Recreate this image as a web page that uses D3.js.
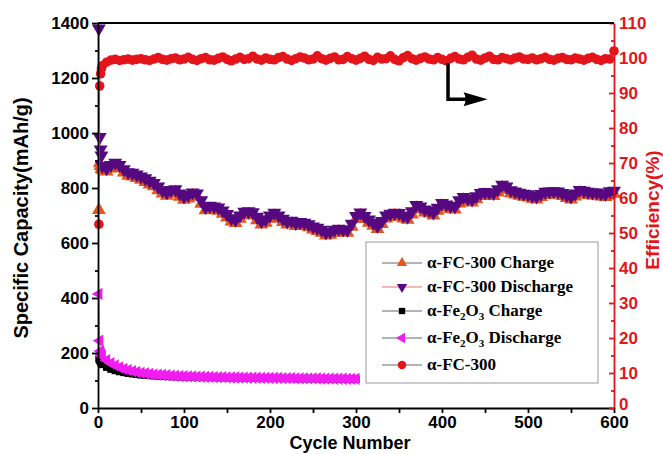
<!DOCTYPE html>
<html>

<head>
	<meta charset="utf-8">
	<title>Cycling performance</title>
	<style>
		body {
			margin: 0;
			background: #ffffff;
		}
		.tick text {
			font-family: "Liberation Sans", Arial, sans-serif;
			font-weight: bold;
			font-size: 17px;
		}
		.legend text {
			font-family: "Liberation Serif", "Times New Roman", serif;
			font-weight: bold;
			font-size: 17px;
		}
	</style>
</head>

<body>
	<script src="https://d3js.org/d3.v7.min.js"></script>
	<script type="text/javascript">
		// cycle index: first four cycles, then every 5th cycle
		var fcCycles = [1, 2, 3, 4].concat(d3.range(5, 601, 5));
		var feCycles = [1, 2, 3, 4].concat(d3.range(5, 301, 5));

		// alpha-FC-300 capacity (mAh/g)
		var fcCharge = [720, 890, 880, 870,
			866, 860, 871, 879, 872, 856, 845, 842, 836, 830,
			822, 813, 806, 792, 780, 772, 780, 783, 768, 757,
			762, 772, 768, 743, 719, 723, 721, 717, 706, 693,
			678, 673, 688, 702, 703, 700, 683, 667, 674, 688,
			698, 689, 676, 667, 669, 662, 664, 663, 657, 649,
			644, 637, 627, 630, 637, 641, 638, 637, 659, 687,
			700, 687, 674, 663, 651, 669, 689, 695, 699, 698,
			689, 685, 704, 727, 722, 711, 707, 700, 717, 734,
			729, 724, 722, 744, 756, 751, 747, 759, 771, 774,
			773, 771, 784, 801, 794, 781, 776, 772, 768, 766,
			761, 758, 767, 775, 776, 777, 776, 771, 764, 758,
			769, 782, 779, 775, 773, 773, 769, 767, 777, 779];
		var fcDischarge = [1380, 985, 940, 918,
			880, 872, 884, 892, 884, 868, 857, 855, 849, 842,
			835, 826, 818, 805, 792, 784, 793, 795, 780, 769,
			775, 784, 780, 755, 731, 735, 733, 729, 718, 705,
			690, 685, 700, 714, 715, 712, 695, 679, 686, 700,
			710, 700, 688, 678, 681, 673, 676, 674, 668, 660,
			655, 648, 638, 641, 648, 652, 649, 648, 670, 698,
			711, 698, 685, 674, 662, 680, 700, 706, 710, 709,
			700, 696, 715, 738, 733, 722, 718, 711, 728, 745,
			740, 735, 733, 755, 767, 762, 758, 770, 782, 785,
			784, 782, 795, 812, 805, 792, 787, 783, 779, 777,
			772, 769, 778, 786, 787, 788, 787, 782, 775, 769,
			780, 793, 790, 786, 784, 784, 780, 778, 788, 790];

		// alpha-Fe2O3 capacity (mAh/g)
		var feCharge = [178, 172, 166, 162,
			158, 148, 141, 136, 132, 129, 126, 124, 122, 120,
			119, 118, 117, 116, 115, 114.5, 114, 113.5, 113, 112.5,
			112, 112, 111.5, 111, 111, 110.5, 110.5, 110, 110, 109.5,
			109.5, 109, 109, 108.5, 108.5, 108.5, 108, 108, 108, 107.5,
			107.5, 107.5, 107, 107, 107, 106.5, 106.5, 106.5, 106, 106,
			106, 105.5, 105.5, 105.5, 105, 105, 105, 104.5, 104.5, 104.5];
		var feDischarge = [415, 245, 207, 196,
			189, 174, 163, 155, 148, 142, 138, 134, 131, 128,
			126, 124, 122, 121, 120, 119, 118, 117, 116, 115.5,
			115, 114.5, 114, 113.5, 113, 113, 112.5, 112, 112, 111.5,
			111, 111, 110.5, 110.5, 110, 110, 110, 109.5, 109.5, 109,
			109, 109, 108.5, 108.5, 108.5, 108, 108, 108, 107.5, 107.5,
			107.5, 107, 107, 107, 106.5, 106.5, 106.5, 106, 106, 106];

		// alpha-FC-300 coulombic efficiency (%)
		var fcEfficiency = [52.5, 92, 95.5, 97,
			97.8, 98.8, 99.4, 99.6, 99.3, 99.5, 99.7, 99.4, 99.6, 99.8,
			99.5, 99.3, 99.7, 100.1, 99.6, 99.4, 99.8, 100.0, 99.5, 99.7,
			100.2, 99.6, 99.3, 99.8, 100.1, 99.5, 99.4, 99.9, 100.3, 99.6,
			99.2, 99.7, 100.2, 99.6, 99.8, 100.5, 99.7, 99.4, 100.0, 99.6,
			99.5, 100.1, 100.4, 99.7, 99.3, 99.8, 100.3, 100.0, 99.5, 99.7,
			100.6, 99.8, 99.4, 99.9, 100.3, 99.5, 99.6, 100.4, 99.8, 99.4,
			99.9, 100.5, 99.6, 99.3, 100.2, 99.7, 99.8, 100.6, 99.6, 99.2,
			100.1, 100.7, 99.8, 99.4, 99.9, 100.3, 99.7, 99.5, 100.1, 99.6,
			99.2, 99.9, 100.4, 99.7, 99.5, 100.2, 100.8, 99.7, 99.4, 100.0,
			100.5, 99.6, 99.5, 100.1, 99.8, 99.5, 100.0, 100.3, 99.7, 99.6,
			100.0, 99.5, 99.8, 100.2, 99.6, 99.4, 99.9, 100.1, 99.6, 99.5,
			100.0, 99.7, 99.4, 99.9, 100.2, 99.6, 99.3, 99.8, 99.7, 102.0];

		var xTicks = [0, 100, 200, 300, 400, 500, 600];
		var yLeftTicks = [0, 200, 400, 600, 800, 1000, 1200, 1400];
		var yRightTicks = [0, 10, 20, 30, 40, 50, 60, 70, 80, 90, 100, 110];

		var legendNames = ["α-FC-300 Charge", "α-FC-300 Discharge", "α-Fe2O3 Charge", "α-Fe2O3 Discharge", "α-FC-300"];

		var red = "#e3151b";
		var colFcCharge = "#e4561f";
		var colFcDischarge = "#55087f";
		var colFeCharge = "#000000";
		var colFeDischarge = "#f01cf0";

		var svg = d3.select("body").append("svg")
			.attr("width", 663)
			.attr("height", 454);

		var x = d3.scaleLinear().domain([0, 600]).range([98, 614]);
		var yL = d3.scaleLinear().domain([0, 1400]).range([408, 23]);
		var yR = d3.scaleLinear().domain([0, 110]).range([408, 23]);

		// series, in plotting order (size = plot marker, lsize = legend marker)
		var series = [
			{cyc: fcCycles, val: fcCharge, y: yL, color: colFcCharge, line: "#9a9a9a", shape: d3.symbolTriangle, rot: 0, size: 84, lsize: 46},
			{cyc: fcCycles, val: fcDischarge, y: yL, color: colFcDischarge, line: "#f2a0a0", shape: d3.symbolTriangle, rot: 180, size: 84, lsize: 46},
			{cyc: feCycles, val: feCharge, y: yL, color: colFeCharge, line: "#9a9a9a", shape: d3.symbolSquare, rot: 0, size: 52, lsize: 40},
			{cyc: feCycles, val: feDischarge, y: yL, color: colFeDischarge, line: "#9a9a9a", shape: d3.symbolTriangle, rot: -90, size: 66, lsize: 46},
			{cyc: fcCycles, val: fcEfficiency, y: yR, color: red, line: "#9a9a9a", shape: d3.symbolCircle, rot: 0, size: 72, lsize: 56}
		];

		series.forEach(function(s) {
			var pts = s.cyc.map(function(c, i) { return [c, s.val[i]]; });
			svg.append("path")
				.attr("d", d3.line().x(function(d) { return x(d[0]); }).y(function(d) { return s.y(d[1]); })(pts))
				.attr("fill", "none")
				.attr("stroke", s.line)
				.attr("stroke-width", 1);
			svg.append("g").selectAll("path").data(pts).enter().append("path")
				.attr("d", d3.symbol().type(s.shape).size(s.size))
				.attr("transform", function(d) {
					return "translate(" + x(d[0]) + "," + s.y(d[1]) + ") rotate(" + s.rot + ")";
				})
				.attr("fill", s.color);
		});

		// axes
		svg.append("g").attr("transform", "translate(98,0)")
			.call(d3.axisLeft(yL).tickValues(yLeftTicks).tickFormat(d3.format("d")).tickSize(6).tickSizeOuter(0).tickPadding(3));
		svg.append("g").attr("transform", "translate(98,0)")
			.call(d3.axisLeft(yL).tickValues(d3.range(100, 1400, 200)).tickSize(3).tickFormat(""))
			.select(".domain").remove();
		svg.append("g").attr("transform", "translate(0,408)")
			.call(d3.axisBottom(x).tickValues(xTicks).tickSize(5).tickSizeOuter(0).tickPadding(3));
		svg.append("g").attr("transform", "translate(0,408)")
			.call(d3.axisBottom(x).tickValues(d3.range(50, 600, 100)).tickSize(5).tickFormat(""))
			.select(".domain").remove();
		var gRight = svg.append("g").attr("transform", "translate(614,0)")
			.call(d3.axisRight(yR).tickValues(yRightTicks).tickSize(-5).tickSizeOuter(0).tickPadding(5));
		var gRightMinor = svg.append("g").attr("transform", "translate(614,0)")
			.call(d3.axisRight(yR).tickValues(d3.range(5, 110, 10)).tickSize(-3).tickFormat(""));
		gRightMinor.select(".domain").remove();

		svg.selectAll(".domain, .tick line").attr("stroke-width", 1.8);
		gRight.selectAll(".domain, .tick line").attr("stroke", red);
		gRightMinor.selectAll(".tick line").attr("stroke", red);
		gRight.selectAll(".tick text").attr("fill", red);
		// lift the right-axis zero a little so it clears the "600" below it
		gRight.selectAll(".tick text").filter(function(d) { return d === 0; }).attr("y", -4);

		// top frame line
		svg.append("line")
			.attr("x1", 98).attr("x2", 614)
			.attr("y1", 23).attr("y2", 23)
			.attr("stroke", "#000").attr("stroke-width", 1.8);

		// axis titles
		svg.append("text")
			.attr("transform", "translate(21,218) rotate(-90)")
			.attr("text-anchor", "middle")
			.attr("dominant-baseline", "central")
			.style("font-family", "Liberation Sans, Arial, sans-serif")
			.style("font-weight", "bold")
			.style("font-size", "20px")
			.text("Specific Capacity(mAh/g)");
		svg.append("text")
			.attr("x", 350).attr("y", 449)
			.attr("text-anchor", "middle")
			.style("font-family", "Liberation Sans, Arial, sans-serif")
			.style("font-weight", "bold")
			.style("font-size", "18px")
			.text("Cycle Number");
		svg.append("text")
			.attr("transform", "translate(652,210) rotate(-90)")
			.attr("text-anchor", "middle")
			.attr("dominant-baseline", "central")
			.attr("fill", red)
			.style("font-family", "Liberation Sans, Arial, sans-serif")
			.style("font-weight", "bold")
			.style("font-size", "19px")
			.text("Efficiency(%)");

		// arrow pointing to the right axis
		var arrowX = x(407), arrowTop = yR(98.6), arrowBot = yR(88.2), arrowEnd = x(453);
		svg.append("path")
			.attr("d", "M" + arrowX + "," + arrowTop + "V" + arrowBot + "H" + (arrowEnd - 20))
			.attr("fill", "none")
			.attr("stroke", "#000")
			.attr("stroke-width", 3.5);
		svg.append("path")
			.attr("d", "M" + (arrowEnd - 24) + "," + (arrowBot - 7) + "L" + arrowEnd + "," + arrowBot +
				"L" + (arrowEnd - 24) + "," + (arrowBot + 7) + "Q" + (arrowEnd - 20) + "," + arrowBot + " " + (arrowEnd - 24) + "," + (arrowBot - 7) + "Z")
			.attr("fill", "#000");

		// legend
		var legend = svg.append("g").attr("class", "legend");
		legend.append("rect")
			.attr("x", 366).attr("y", 242)
			.attr("width", 232).attr("height", 141)
			.attr("fill", "#fff")
			.attr("stroke", "#999")
			.attr("stroke-width", 1);
		var rowY = [263, 287, 311, 338, 365];
		series.forEach(function(s, i) {
			var g = legend.append("g").attr("transform", "translate(0," + rowY[i] + ")");
			g.append("line")
				.attr("x1", 382).attr("x2", 422)
				.attr("stroke", s.line).attr("stroke-width", 1.5);
			g.append("path")
				.attr("d", d3.symbol().type(s.shape).size(s.lsize))
				.attr("transform", "translate(402,0) rotate(" + s.rot + ")")
				.attr("fill", s.color);
			var t = g.append("text").attr("x", 427).attr("y", 5);
			var name = legendNames[i];
			if (name.indexOf("Fe2O3") >= 0) {
				var rest = name.split("Fe2O3")[1];
				t.append("tspan").text("α-Fe");
				t.append("tspan").attr("dy", 4).style("font-size", "11px").text("2");
				t.append("tspan").attr("dy", -4).text("O");
				t.append("tspan").attr("dy", 4).style("font-size", "11px").text("3");
				t.append("tspan").attr("dy", -4).text(rest);
			} else {
				t.text(name);
			}
		});
	</script>
</body>

</html>
